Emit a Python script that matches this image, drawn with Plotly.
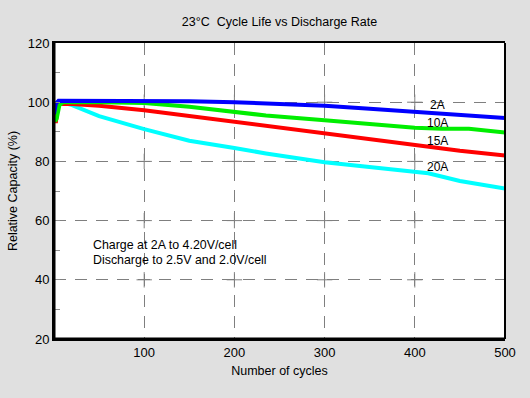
import plotly.graph_objects as go

cycles_2a = [0, 2, 5, 20, 50, 100, 150, 200, 235, 250, 300, 350, 400, 450, 500]
cap_2a = [96.0, 99.5, 100.5, 100.5, 100.6, 100.5, 100.3, 100.0, 99.6, 99.4, 98.8, 97.8, 96.8, 95.7, 94.7]

cycles_10a = [1, 3, 6, 10, 50, 100, 150, 200, 235, 300, 350, 400, 430, 460, 500]
cap_10a = [93.5, 94.5, 99.0, 100.0, 100.0, 99.7, 98.5, 96.8, 95.5, 93.9, 92.6, 91.4, 91.0, 91.0, 89.8]

cycles_15a = [0, 2, 4, 6, 20, 50, 100, 150, 200, 235, 300, 350, 400, 450, 500]
cap_15a = [96.0, 93.0, 98.5, 99.5, 99.4, 98.8, 97.3, 95.3, 93.5, 92.1, 89.3, 87.3, 85.4, 83.6, 82.0]

cycles_20a = [2, 6, 20, 50, 100, 150, 200, 235, 300, 350, 400, 415, 450, 500]
cap_20a = [99.5, 100.2, 99.0, 95.3, 90.9, 87.0, 84.5, 82.7, 79.7, 78.0, 76.3, 76.0, 73.4, 70.8]

series_names = ["2A", "10A", "15A", "20A"]
series_colors = ["#0000ff", "#00ee00", "#ff0000", "#00ffff"]
label_x = [425, 425, 425, 425]
label_y = [99.1, 93.0, 87.0, 78.2]

x_ticks = [100, 200, 300, 400, 500]
y_ticks = [20, 40, 60, 80, 100, 120]
y_minor_ticks = [30, 50, 70, 90, 110]
grid_x = [100, 200, 300, 400]
grid_y = [40, 60, 80, 100]

note_lines = ["Charge at 2A to 4.20V/cell", "Discharge to 2.5V and 2.0V/cell"]
note_x = 40.5
note_y = [51.9, 46.8]

font = "Liberation Sans, Arial, sans-serif"

fig = go.Figure()

cx = [gx for gx in grid_x for gy in grid_y]
cy = [gy for gx in grid_x for gy in grid_y]
fig.add_trace(go.Scatter(x=cx, y=cy, mode="markers", showlegend=False, hoverinfo="skip",
                         marker=dict(symbol="cross-thin", size=11,
                                     line=dict(color="#7f7f7f", width=1))))

data = [(cycles_2a, cap_2a), (cycles_10a, cap_10a), (cycles_15a, cap_15a), (cycles_20a, cap_20a)]
order = [3, 2, 1, 0]
for i in order:
    xs, ys = data[i]
    fig.add_trace(go.Scatter(x=xs, y=ys, mode="lines", name=series_names[i],
                             line=dict(color=series_colors[i], width=4),
                             showlegend=False))

for name, lx, ly in zip(series_names, label_x, label_y):
    fig.add_annotation(x=lx, y=ly, text=name, showarrow=False, xanchor="center",
                       yanchor="middle", font=dict(family=font, size=12, color="black"))

for line, ny in zip(note_lines, note_y):
    fig.add_annotation(x=note_x, y=ny, text=line, showarrow=False,
                       xanchor="left", yanchor="middle", align="left",
                       font=dict(family=font, size=12.4, color="black"))

fig.update_layout(
    width=530, height=398,
    margin=dict(l=54, r=25, t=43, b=59),
    paper_bgcolor="#e0e0e0",
    plot_bgcolor="white",
    font=dict(family=font, size=13, color="black"),
    title=dict(text="23°C  Cycle Life vs Discharge Rate", x=0.5, xref="paper",
               xanchor="center", y=1 - 22 / 398, yanchor="middle", font=dict(size=12.5)),
)

fig.update_xaxes(range=[0, 500], tickvals=x_ticks, ticks="",
                 showgrid=True, gridcolor="#7f7f7f", gridwidth=1, griddash="12px,9px",
                 showline=True, linecolor="black", linewidth=2, mirror=True,
                 zeroline=False,
                 title=dict(text="Number of cycles", font=dict(size=12.5), standoff=8))
fig.update_yaxes(range=[20, 120], tickvals=y_ticks, ticks="inside", ticklen=6,
                 tickcolor="#909090", tickwidth=1,
                 showgrid=True, gridcolor="#7f7f7f", gridwidth=1, griddash="12px,9px",
                 showline=True, linecolor="black", linewidth=2, mirror=False,
                 zeroline=False,
                 minor=dict(tickvals=y_minor_ticks, ticks="inside", ticklen=6,
                            tickcolor="#909090", tickwidth=1, showgrid=False),
                 title=dict(text="Relative Capacity (%)", font=dict(size=12.5), standoff=7))

# frame: thick left/bottom, thinner top/right
fig.add_shape(type="line", xref="paper", yref="paper", x0=1, x1=1, y0=0, y1=1,
              line=dict(color="black", width=2))
fig.add_shape(type="line", xref="paper", yref="paper", x0=0, x1=0, y0=0, y1=1,
              line=dict(color="black", width=3))
fig.add_shape(type="line", xref="paper", yref="paper", x0=0, x1=1, y0=0, y1=0,
              line=dict(color="black", width=3))

fig.write_html("out.html", config={"displayModeBar": False},
               post_script="document.body.style.margin='0';document.body.style.background='#e0e0e0';")
